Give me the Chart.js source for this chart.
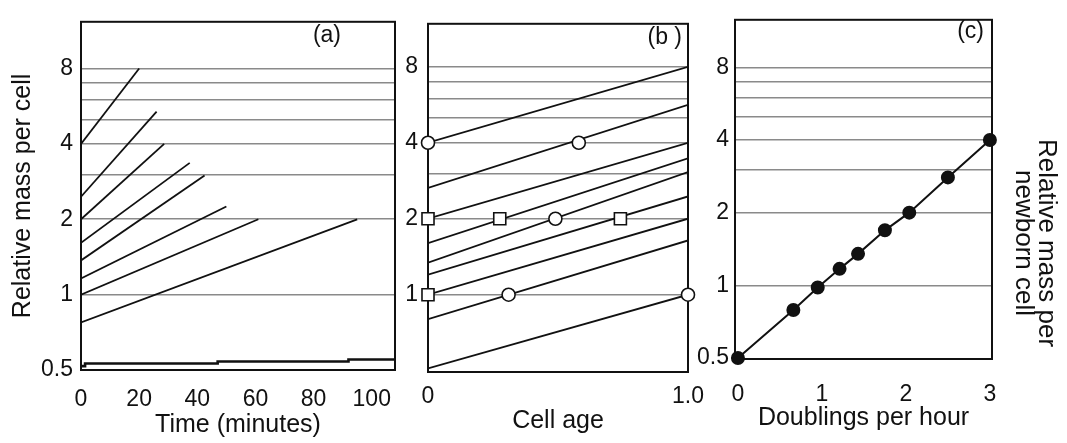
<!DOCTYPE html>
<html><head><meta charset="utf-8">
<script src="https://cdn.jsdelivr.net/npm/chart.js@4.4.1/dist/chart.umd.min.js"></script>
<style>
html,body{margin:0;padding:0;background:#fff;}
#wrap{position:relative;width:1067px;height:443px;overflow:hidden;background:#fff;}
canvas{position:absolute;left:0;top:0;}
</style>
</head><body>
<div id="wrap">
<canvas id="ca" width="1067" height="443"></canvas>
<canvas id="cb" width="1067" height="443"></canvas>
<canvas id="cc" width="1067" height="443"></canvas>
</div>
<script>
// ---------- data ----------
const gridMasses = [0.5, 1, 2, 3, 4, 5, 6, 7, 8];
const labeledMassesA = [0.5, 1, 2, 4, 8];
const labeledMassesB = [1, 2, 4, 8];
const labeledMassesC = [0.5, 1, 2, 4, 8];

// panel (a): mass per cell vs time
const aTimeTicks = [0, 20, 40, 60, 80, 100];
const aStartMass = [4, 2.46, 2, 1.61, 1.37, 1.16, 1, 0.775];
const aEndTime   = [20, 26, 28.6, 37.4, 42.5, 50, 61, 95];
const aEndMass   = [8, 5.38, 4, 3.36, 2.99, 2.25, 2, 2];
const aBaseTime  = [0, 1.4, 1.4, 47, 47, 92, 92, 108];
const aBaseMass  = [0.518, 0.518, 0.531, 0.531, 0.541, 0.541, 0.551, 0.551];

// panel (b): mass per cell vs cell age
const bAgeTicks   = [0, 1];
const bStartMass  = [4, 2.65, 2, 1.6, 1.34, 1.2, 1, 0.8, 0.51];
const bEndMass    = [8, 5.65, 4, 3.47, 3.06, 2.45, 2, 1.64, 1];
const bCircleAge  = [0, 0.58, 0.49, 0.31, 1.0];
const bCircleMass = [4, 4, 2, 1, 1];
const bSquareAge  = [0, 0.276, 0.74, 0];
const bSquareMass = [2, 2, 2, 1];

// panel (c): newborn mass vs doublings per hour
const cRateTicks = [0, 1, 2, 3];
const cRate = [0, 0.66, 0.95, 1.21, 1.43, 1.75, 2.04, 2.5, 3];
const cMass = [0.5, 0.79, 0.98, 1.17, 1.35, 1.69, 2.0, 2.8, 4];

// ---------- styling ----------
const FONT = "'Liberation Sans', Arial, Helvetica, sans-serif";
const INK = '#111111';
const GRID = '#8a8a8a';
const TICK_SIZE = 23;
const TITLE_SIZE = 25;

function massAxis(o) {
  return {
    type: 'logarithmic', position: 'left', min: o.min, max: o.max,
    afterBuildTicks: s => { s.ticks = gridMasses.map(v => ({ value: v })); },
    afterFit: s => { s.width = o.width; },
    ticks: { autoSkip: false, padding: o.tickPad, color: INK,
      font: { family: FONT, size: TICK_SIZE },
      callback: v => o.labels.includes(v) ? String(v) : '' },
    grid: { drawTicks: false, lineWidth: 1.6,
      color: c => (c.tick && c.tick.value === 0.5) ? 'rgba(0,0,0,0)' : GRID },
    border: { display: false },
    title: o.title ? { display: true, text: o.title, color: INK,
      font: { family: FONT, size: TITLE_SIZE, lineHeight: 1.2 },
      padding: { top: o.titlePad, bottom: 0 } } : { display: false }
  };
}
function xAxis(o) {
  return {
    type: 'linear', position: 'bottom', min: o.min, max: o.max,
    afterBuildTicks: s => { s.ticks = o.ticks.map(v => ({ value: v })); },
    afterFit: s => { s.height = o.height; },
    ticks: { autoSkip: false, maxRotation: 0, padding: o.tickPad, color: INK,
      font: { family: FONT, size: TICK_SIZE }, callback: o.fmt || (v => String(v)) },
    grid: { display: false, drawTicks: false },
    border: { display: false },
    title: { display: true, text: o.title, color: INK,
      font: { family: FONT, size: TITLE_SIZE, lineHeight: 1.2 },
      padding: { top: 0, bottom: o.titlePad } }
  };
}
function framePlugin(label, lx, ly) {
  return {
    id: 'frame' + label,
    beforeDatasetsDraw(chart) {
      const a = chart.chartArea, ctx = chart.ctx;
      ctx.save();
      ctx.strokeStyle = INK; ctx.lineWidth = 2;
      ctx.strokeRect(a.left, a.top, a.right - a.left, a.bottom - a.top);
      ctx.restore();
    },
    afterDraw(chart) {
      const ctx = chart.ctx;
      ctx.save();
      ctx.fillStyle = INK; ctx.font = '23px ' + FONT;
      ctx.textAlign = 'right'; ctx.textBaseline = 'middle';
      ctx.fillText(label, lx, ly);
      ctx.restore();
    }
  };
}
const baseOpts = (pad) => ({
  responsive: false, animation: false, devicePixelRatio: 1,
  layout: { padding: pad },
  plugins: { legend: { display: false }, tooltip: { enabled: false } }
});
const lineDs = (pts, w) => ({ data: pts, borderColor: INK, borderWidth: w, pointRadius: 0, fill: false, tension: 0 });

// ---------- panel (a) ----------
const aSets = aStartMass.map((m, i) => lineDs([{ x: 0, y: m }, { x: aEndTime[i], y: aEndMass[i] }], 1.8));
aSets.push(lineDs(aBaseTime.map((t, i) => ({ x: t, y: aBaseMass[i] })), 2.6));
new Chart(document.getElementById('ca'), {
  type: 'line',
  data: { datasets: aSets },
  options: Object.assign(baseOpts({ left: 0, right: 672, top: 11, bottom: 0 }), {
    scales: {
      x: xAxis({ min: 0, max: 108, ticks: aTimeTicks, tickPad: 16, height: 73, title: 'Time (minutes)', titlePad: 3 }),
      y: massAxis({ min: 0.5, max: 12.3, labels: labeledMassesA, tickPad: 8, width: 81, title: 'Relative mass per cell', titlePad: 8 })
    }
  }),
  plugins: [framePlugin('(a)', 341, 36)]
});

// ---------- panel (b) ----------
const bSets = [
  { data: bCircleAge.map((x, i) => ({ x, y: bCircleMass[i] })), showLine: false, pointStyle: 'circle', pointRadius: 6.5,
    pointBackgroundColor: '#fff', pointBorderColor: INK, pointBorderWidth: 1.6, clip: false },
  { data: bSquareAge.map((x, i) => ({ x, y: bSquareMass[i] })), showLine: false, pointStyle: 'rect', pointRadius: 8.5,
    pointBackgroundColor: '#fff', pointBorderColor: INK, pointBorderWidth: 1.6, clip: false }
];
bStartMass.forEach((m, i) => bSets.push(lineDs([{ x: 0, y: m }, { x: 1, y: bEndMass[i] }], 1.8)));
new Chart(document.getElementById('cb'), {
  type: 'line',
  data: { datasets: bSets },
  options: Object.assign(baseOpts({ left: 368, right: 379, top: 15, bottom: 0 }), {
    scales: {
      x: xAxis({ min: 0, max: 1, ticks: bAgeTicks, tickPad: 11, height: 71, title: 'Cell age', titlePad: 7,
        fmt: v => v === 0 ? '0' : v.toFixed(1) }),
      y: massAxis({ min: 0.494, max: 11.84, labels: labeledMassesB, tickPad: 10, width: 60 })
    }
  }),
  plugins: [framePlugin('(b )', 682, 38)]
});

// ---------- panel (c) ----------
const rightTitle = {
  id: 'rightTitle',
  afterDraw(chart) {
    const ctx = chart.ctx;
    ctx.save();
    ctx.fillStyle = INK; ctx.font = '26px ' + FONT;
    ctx.textAlign = 'center'; ctx.textBaseline = 'middle';
    [['Relative mass per', 1046], ['newborn cell', 1023]].forEach(([t, x]) => {
      ctx.save(); ctx.translate(x, 243); ctx.rotate(Math.PI / 2); ctx.fillText(t, 0, 0); ctx.restore();
    });
    ctx.restore();
  }
};
new Chart(document.getElementById('cc'), {
  type: 'line',
  data: { datasets: [
    { data: cRate.map((x, i) => ({ x, y: cMass[i] })), borderColor: INK, borderWidth: 2, pointStyle: 'circle',
      pointRadius: 6, pointBackgroundColor: INK, pointBorderColor: INK, fill: false, tension: 0, clip: false }
  ] },
  options: Object.assign(baseOpts({ left: 675, right: 75, top: 9, bottom: 0 }), {
    scales: {
      x: xAxis({ min: -0.035, max: 3.025, ticks: cRateTicks, tickPad: 22, height: 84, title: 'Doublings per hour', titlePad: 10 }),
      y: massAxis({ min: 0.495, max: 12.6, labels: labeledMassesC, tickPad: 6, width: 60 })
    }
  }),
  plugins: [framePlugin('(c)', 984, 32), rightTitle]
});
</script>
</body></html>
